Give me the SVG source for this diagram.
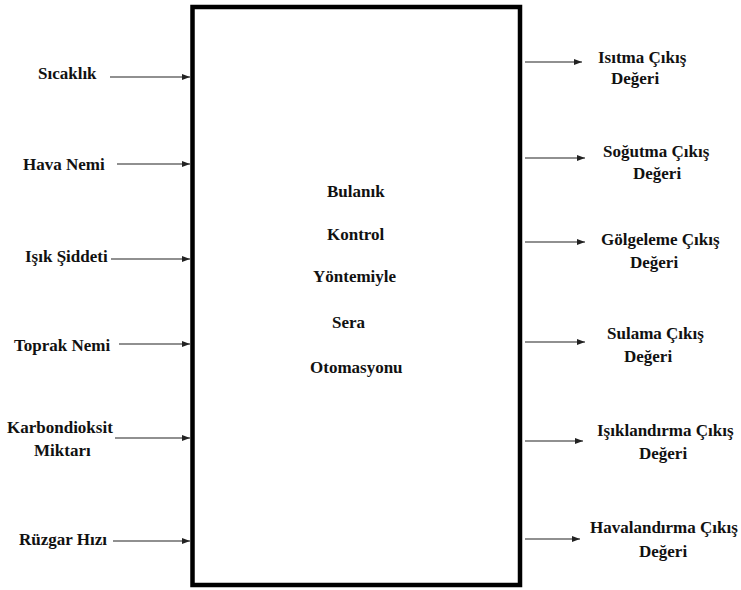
<svg xmlns="http://www.w3.org/2000/svg" width="741" height="590" viewBox="0 0 741 590">
<style>
.c{stroke:#222;stroke-width:1.2;fill:none}
</style>
<defs>
<marker id="ah" markerWidth="8" markerHeight="6" refX="8" refY="3" orient="auto" markerUnits="userSpaceOnUse">
<path d="M0,0 L8,3 L0,6 Z" fill="#222"/>
</marker>
</defs>
<rect width="741" height="590" fill="#fff"/>
<g font-family="Liberation Serif" font-weight="bold" font-size="17" fill="#111">
<g id="main">
<rect x="192.5" y="7" width="327.5" height="578" fill="none" stroke="#000" stroke-width="4.5"/>
<text x="327" y="197">Bulanık</text>
<text x="327" y="240">Kontrol</text>
<text x="313" y="282">Yöntemiyle</text>
<text x="332" y="328">Sera</text>
<text x="310" y="373">Otomasyonu</text>
</g>
<g id="in1"><text x="38" y="79">Sıcaklık</text></g>
<g id="in2"><text x="23" y="170">Hava Nemi</text></g>
<g id="in3"><text x="25" y="262">Işık Şiddeti</text></g>
<g id="in4"><text x="14" y="351">Toprak Nemi</text></g>
<g id="in5"><text x="7" y="433">Karbondioksit</text><text x="34" y="456">Miktarı</text></g>
<g id="in6"><text x="19" y="545">Rüzgar Hızı</text></g>
<g id="out1"><text x="598" y="63">Isıtma Çıkış</text><text x="611" y="84">Değeri</text></g>
<g id="out2"><text x="603" y="157">Soğutma Çıkış</text><text x="633" y="179">Değeri</text></g>
<g id="out3"><text x="601" y="245">Gölgeleme Çıkış</text><text x="630" y="268">Değeri</text></g>
<g id="out4"><text x="607" y="339">Sulama Çıkış</text><text x="624" y="362">Değeri</text></g>
<g id="out5"><text x="597" y="436">Işıklandırma Çıkış</text><text x="639" y="459">Değeri</text></g>
<g id="out6"><text x="590" y="533">Havalandırma Çıkış</text><text x="639" y="557">Değeri</text></g>
</g>
<g id="connectors">
<line class="c" x1="110" y1="77" x2="190" y2="77" marker-end="url(#ah)"/>
<line class="c" x1="117" y1="164" x2="190" y2="164" marker-end="url(#ah)"/>
<line class="c" x1="111" y1="259" x2="190" y2="259" marker-end="url(#ah)"/>
<line class="c" x1="119" y1="344" x2="190" y2="344" marker-end="url(#ah)"/>
<line class="c" x1="115" y1="438" x2="190" y2="438" marker-end="url(#ah)"/>
<line class="c" x1="113" y1="541" x2="190" y2="541" marker-end="url(#ah)"/>
<line class="c" x1="525" y1="62" x2="582" y2="62" marker-end="url(#ah)"/>
<line class="c" x1="525" y1="158" x2="585" y2="158" marker-end="url(#ah)"/>
<line class="c" x1="525" y1="242" x2="585" y2="242" marker-end="url(#ah)"/>
<line class="c" x1="525" y1="342" x2="585" y2="342" marker-end="url(#ah)"/>
<line class="c" x1="525" y1="441" x2="583" y2="441" marker-end="url(#ah)"/>
<line class="c" x1="525" y1="539" x2="580" y2="539" marker-end="url(#ah)"/>
</g>
</svg>
